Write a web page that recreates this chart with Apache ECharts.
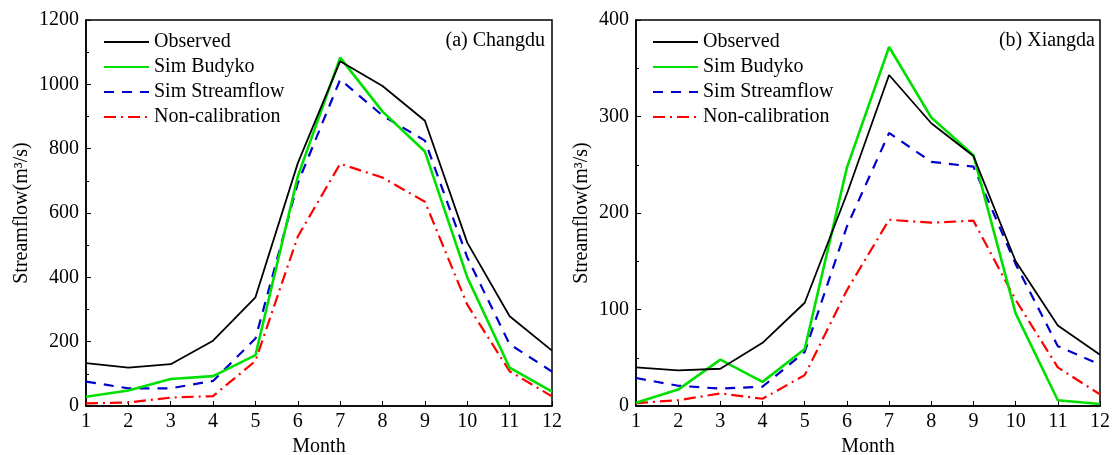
<!DOCTYPE html>
<html>
<head>
<meta charset="utf-8">
<script src="https://cdn.jsdelivr.net/npm/echarts@6/dist/echarts.min.js"></script>
<style>
html,body{margin:0;padding:0;background:#fff;}
#c{width:1114px;height:455px;}
</style>
</head>
<body>
<div id="c"></div>
<script>
const months = [1,2,3,4,5,6,7,8,9,10,11,12];
const seriesNames = ['Observed','Sim Budyko','Sim Streamflow','Non-calibration'];

// (a) Changdu
const changduObserved   = [133,119,130,203,338,755,1072,995,887,508,279,172];
const changduBudyko     = [29,48,84,93,158,714,1083,915,791,400,119,45];
const changduStreamflow = [76,55,55,78,210,693,1015,903,825,462,192,107];
const changduNonCal     = [8,11,26,31,140,527,753,710,635,315,108,30];

// (b) Xiangda
const xiangdaObserved   = [40,37,38.6,65.5,107,220,343,293,259,150,83.5,53];
const xiangdaBudyko     = [3.4,17,48,25,59,247,372,299,260,96,6,2];
const xiangdaStreamflow = [29,21,18,20,56,186,283,253,248,147,62,43];
const xiangdaNonCal     = [3,6,13,7.5,32,120,193,190,192,110,40,12];

const leftYTicks  = {min:0, max:1200, interval:200};
const rightYTicks = {min:0, max:400, interval:100};

const FONT = '"Liberation Serif", "Times New Roman", serif';
const FS = 20;
const styles = [
  {color:'#000000', width:1.8, type:'solid'},
  {color:'#00e000', width:2.6, type:'solid'},
  {color:'#0000cc', width:2.2, type:[10,8]},
  {color:'#ff0000', width:2.2, type:[12,5,2,5]}
];

function mk(name, data, idx, gi){
  const s = styles[idx];
  return {
    name: name, type:'line', xAxisIndex:gi, yAxisIndex:gi,
    data: months.map((m,i)=>[m,data[i]]),
    symbol:'none', smooth:false, animation:false,
    lineStyle:{color:s.color, width:s.width, type:s.type},
    itemStyle:{color:s.color},
    z: 10 - idx
  };
}

function xAx(gi){
  return {
    type:'value', gridIndex:gi, min:1, max:12, interval:1,
    name:'Month', nameLocation:'middle', nameGap:27,
    nameTextStyle:{fontFamily:FONT, fontSize:FS, color:'#000'},
    axisLine:{show:true, lineStyle:{color:'#000', width:1.5}},
    axisTick:{show:true, inside:true, length:5, lineStyle:{color:'#000', width:1}},
    axisLabel:{fontFamily:FONT, fontSize:FS, color:'#000', margin:6},
    splitLine:{show:false}
  };
}
function yAx(gi, t, gap){
  return {
    type:'value', gridIndex:gi, min:t.min, max:t.max, interval:t.interval,
    name:'Streamflow(m\u00B3/s)', nameLocation:'middle', nameGap:gap, nameRotate:90,
    nameTextStyle:{fontFamily:FONT, fontSize:FS, color:'#000'},
    axisLine:{show:true, lineStyle:{color:'#000', width:1.5}},
    axisTick:{show:true, inside:true, length:5, lineStyle:{color:'#000', width:1}},
    minorTick:{show:true, splitNumber:2, length:3, lineStyle:{color:'#000', width:1}},
    axisLabel:{fontFamily:FONT, fontSize:FS, color:'#000', margin:7, formatter:v=>String(v)},
    splitLine:{show:false}, minorSplitLine:{show:false}
  };
}
function legend(left){
  return {
    left:left, top:27, orient:'vertical', itemGap:5, itemWidth:45, itemHeight:14,
    data: seriesNames,
    itemStyle:{opacity:0},
    textStyle:{fontFamily:FONT, fontSize:FS, color:'#000', lineHeight:20},
    selectedMode:false
  };
}

const chart = echarts.init(document.getElementById('c'), null, {renderer:'canvas'});
chart.setOption({
  backgroundColor:'#fff',
  animation:false,
  grid:[
    {left:86, right:562, top:20, bottom:49, containLabel:false, outerBoundsMode:'none',
     show:true, borderColor:'#000', borderWidth:1.5, backgroundColor:'transparent'},
    {left:636, right:14, top:20, bottom:49, containLabel:false, outerBoundsMode:'none',
     show:true, borderColor:'#000', borderWidth:1.5, backgroundColor:'transparent'}
  ],
  xAxis:[xAx(0), xAx(1)],
  yAxis:[yAx(0, leftYTicks, 54), yAx(1, rightYTicks, 44)],
  legend:[legend(98), legend(647)],
  graphic:[
    {type:'text', right:569, top:31, style:{text:'(a) Changdu', font:FS+'px '+FONT, fill:'#000'}},
    {type:'text', right:19, top:31, style:{text:'(b) Xiangda', font:FS+'px '+FONT, fill:'#000'}}
  ],
  series:[
    mk(seriesNames[0], changduObserved, 0, 0),
    mk(seriesNames[1], changduBudyko, 1, 0),
    mk(seriesNames[2], changduStreamflow, 2, 0),
    mk(seriesNames[3], changduNonCal, 3, 0),
    mk(seriesNames[0], xiangdaObserved, 0, 1),
    mk(seriesNames[1], xiangdaBudyko, 1, 1),
    mk(seriesNames[2], xiangdaStreamflow, 2, 1),
    mk(seriesNames[3], xiangdaNonCal, 3, 1)
  ]
});
</script>
</body>
</html>
